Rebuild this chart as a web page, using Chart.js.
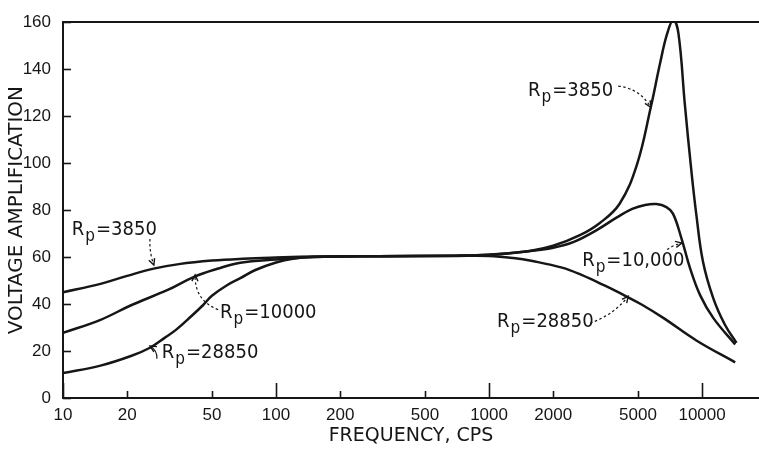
<!DOCTYPE html>
<html>
<head>
    <title>Voltage Amplification vs Frequency</title>
    <script src="https://cdnjs.cloudflare.com/ajax/libs/Chart.js/4.4.1/chart.umd.min.js"></script>
    <style>
        body { margin: 0; background: #fff; }
        .chart-container { width: 759px; height: 449px; }
    </style>
</head>
<body>
    <div class="chart-container">
        <canvas id="myChart"></canvas>
    </div>

    <script>
        // Axis ticks
        const freqTicks = [10, 20, 50, 100, 200, 500, 1000, 2000, 5000, 10000];
        const decadeTicks = [10, 100, 1000, 10000];

        // Rp = 3850
        const freq3850 = [10, 15, 20, 27, 35, 50, 70, 100, 150, 300, 700, 1000, 1550, 2000, 2670, 3300, 4100, 4950, 5740, 6350, 6850, 7330, 7750, 8300, 8900, 9400, 10100, 11300, 12800, 14500];
        const amp3850 = [45, 48.6, 52, 55.2, 57, 58.5, 59.3, 59.8, 60.2, 60.4, 60.6, 61, 62.6, 64.8, 69.3, 74.4, 82.7, 99.5, 123.7, 142.5, 155, 161, 155, 125, 97, 78, 58, 42.3, 31.2, 23.5];

        // Rp = 10000
        const freq10000 = [10, 15, 21, 31, 41, 53, 68, 100, 150, 300, 700, 1000, 1500, 2000, 2500, 3200, 4000, 4700, 5400, 6100, 6800, 7300, 8000, 8800, 9800, 11300, 14300];
        const amp10000 = [27.7, 33.3, 39.6, 46, 51.5, 55, 57.6, 59, 60, 60.4, 60.6, 61, 62.4, 64, 66.5, 71.5, 77, 80.5, 82.2, 82.6, 81.3, 78.5, 68, 55, 43.7, 34, 22.8];

        // Rp = 28850
        const freq28850 = [10, 15, 21, 25.6, 30, 34, 40, 45.5, 50, 58.6, 68, 80, 100, 120, 150, 300, 700, 1000, 1300, 1600, 2200, 2700, 3500, 4400, 5200, 6600, 9400, 14300];
        const amp28850 = [10.6, 13.8, 18, 21.4, 25.6, 29.1, 34.8, 39.6, 43.5, 47.9, 51, 54.5, 57.7, 59.3, 60, 60.4, 60.5, 60.5, 59.6, 58.3, 55.5, 52.5, 47.8, 43.3, 39.8, 34, 24.5, 15.2];

        // Curve labels: text anchor (f, v), arrow tail and tip, in data units
        const notes = [
            { label: '3850', f: 11, v: 71.8, tailF: 25.6, tailV: 67.7, tipF: 26.7, tipV: 56.6, bend: 0.1, dash: true },
            { label: '10000', f: 54.6, v: 36.3, tailF: 53.5, tailV: 37.6, tipF: 41.7, tipV: 52.4, bend: -0.35, dash: true },
            { label: '28850', f: 29.1, v: 19.2, tailF: 27.6, tailV: 16.7, tipF: 25.6, tipV: 22.1, bend: 0.3, dash: false },
            { label: '3850', f: 1524, v: 130.7, tailF: 4040, tailV: 132.8, tipF: 5740, tipV: 123.8, bend: -0.25, dash: true },
            { label: '10,000', f: 2735, v: 58.5, tailF: 6850, tailV: 63.2, tipF: 8030, tipV: 66, bend: -0.1, dash: true },
            { label: '28850', f: 1091, v: 32.6, tailF: 2980, tailV: 31.9, tipF: 4500, tipV: 43.3, bend: 0.15, dash: true }
        ];

        const ink = '#161616';
        const digits = "'Liberation Sans', Arial, sans-serif";
        const cond = "'DejaVu Sans Condensed', 'DejaVu Sans', sans-serif";
        const wide = "'DejaVu Sans', sans-serif";

        function toPoints(xs, ys) {
            return xs.map((f, i) => ({ x: f, y: ys[i] }));
        }

        function curve(data) {
            return {
                data: data,
                borderColor: ink,
                borderWidth: 2.5,
                pointRadius: 0,
                fill: false,
                tension: 0.4
            };
        }

        // inward tick marks and the curve labels
        const inkPlugin = {
            id: 'ink',
            afterDatasetsDraw(chart) {
                const { ctx, chartArea, scales: { x, y } } = chart;
                ctx.save();
                ctx.strokeStyle = ink;
                ctx.fillStyle = ink;
                ctx.lineWidth = 1.6;
                freqTicks.forEach(v => {
                    const px = Math.round(x.getPixelForValue(v)) + 0.5;
                    const len = decadeTicks.includes(v) ? 15 : 7;
                    ctx.beginPath();
                    ctx.moveTo(px, chartArea.bottom);
                    ctx.lineTo(px, chartArea.bottom - len);
                    ctx.stroke();
                });
                y.ticks.forEach(t => {
                    const py = Math.round(y.getPixelForValue(t.value)) + 0.5;
                    ctx.beginPath();
                    ctx.moveTo(chartArea.left, py);
                    ctx.lineTo(chartArea.left + 8, py);
                    ctx.stroke();
                });

                notes.forEach(n => {
                    const tx = x.getPixelForValue(n.f);
                    const ty = y.getPixelForValue(n.v);
                    ctx.textBaseline = 'middle';
                    ctx.textAlign = 'left';
                    ctx.font = '20px ' + cond;
                    ctx.fillText('R', tx, ty);
                    let w = ctx.measureText('R').width + 1;
                    ctx.font = '17px ' + cond;
                    ctx.fillText('p', tx + w, ty + 7);
                    w += ctx.measureText('p').width + 1;
                    ctx.font = '20px ' + cond;
                    ctx.fillText('=' + n.label, tx + w, ty);

                    const ax = x.getPixelForValue(n.tailF), ay = y.getPixelForValue(n.tailV);
                    const bx = x.getPixelForValue(n.tipF), by = y.getPixelForValue(n.tipV);
                    const dx = bx - ax, dy = by - ay;
                    const cx = (ax + bx) / 2 - dy * n.bend;
                    const cy = (ay + by) / 2 + dx * n.bend;
                    ctx.lineWidth = 1.2;
                    ctx.setLineDash(n.dash ? [2.5, 2.5] : []);
                    ctx.beginPath();
                    ctx.moveTo(ax, ay);
                    ctx.quadraticCurveTo(cx, cy, bx, by);
                    ctx.stroke();
                    ctx.setLineDash([]);
                    const ang = Math.atan2(by - cy, bx - cx);
                    ctx.lineWidth = 1.4;
                    ctx.beginPath();
                    ctx.moveTo(bx - 7 * Math.cos(ang - 0.45), by - 7 * Math.sin(ang - 0.45));
                    ctx.lineTo(bx, by);
                    ctx.lineTo(bx - 7 * Math.cos(ang + 0.45), by - 7 * Math.sin(ang + 0.45));
                    ctx.stroke();
                });
                ctx.restore();
            }
        };

        const ctx = document.getElementById('myChart').getContext('2d');
        new Chart(ctx, {
            type: 'line',
            data: {
                datasets: [
                    curve(toPoints(freq3850, amp3850)),
                    curve(toPoints(freq10000, amp10000)),
                    curve(toPoints(freq28850, amp28850))
                ]
            },
            options: {
                responsive: true,
                maintainAspectRatio: false,
                animation: false,
                layout: { padding: { top: 15, right: 0, bottom: 0, left: 0 } },
                plugins: {
                    legend: { display: false },
                    tooltip: { enabled: false }
                },
                scales: {
                    x: {
                        type: 'logarithmic',
                        min: 10,
                        max: 18500,
                        afterBuildTicks: s => { s.ticks = freqTicks.map(v => ({ value: v })); },
                        afterFit: s => { s.height = 51; },
                        ticks: {
                            autoSkip: false,
                            maxRotation: 0,
                            padding: 7,
                            color: ink,
                            font: { family: digits, size: 17 },
                            callback: v => String(v)
                        },
                        grid: { display: false, drawTicks: false },
                        border: { display: true, color: ink, width: 2 },
                        title: {
                            display: true,
                            text: 'FREQUENCY, CPS',
                            color: ink,
                            font: { family: wide, size: 19 },
                            padding: { top: 0, bottom: 2 }
                        }
                    },
                    y: {
                        type: 'linear',
                        min: 0,
                        max: 160,
                        afterFit: s => { s.width = 63; },
                        ticks: {
                            stepSize: 20,
                            padding: 12,
                            color: ink,
                            font: { family: digits, size: 17 }
                        },
                        grid: {
                            drawTicks: false,
                            lineWidth: 2,
                            color: c => (c.tick && c.tick.value === 160) ? ink : 'rgba(0,0,0,0)'
                        },
                        border: { display: true, color: ink, width: 2 },
                        title: {
                            display: true,
                            text: 'VOLTAGE AMPLIFICATION',
                            color: ink,
                            font: { family: wide, size: 20 },
                            padding: { top: 5, bottom: 0 }
                        }
                    }
                }
            },
            plugins: [inkPlugin]
        });
    </script>
</body>
</html>
